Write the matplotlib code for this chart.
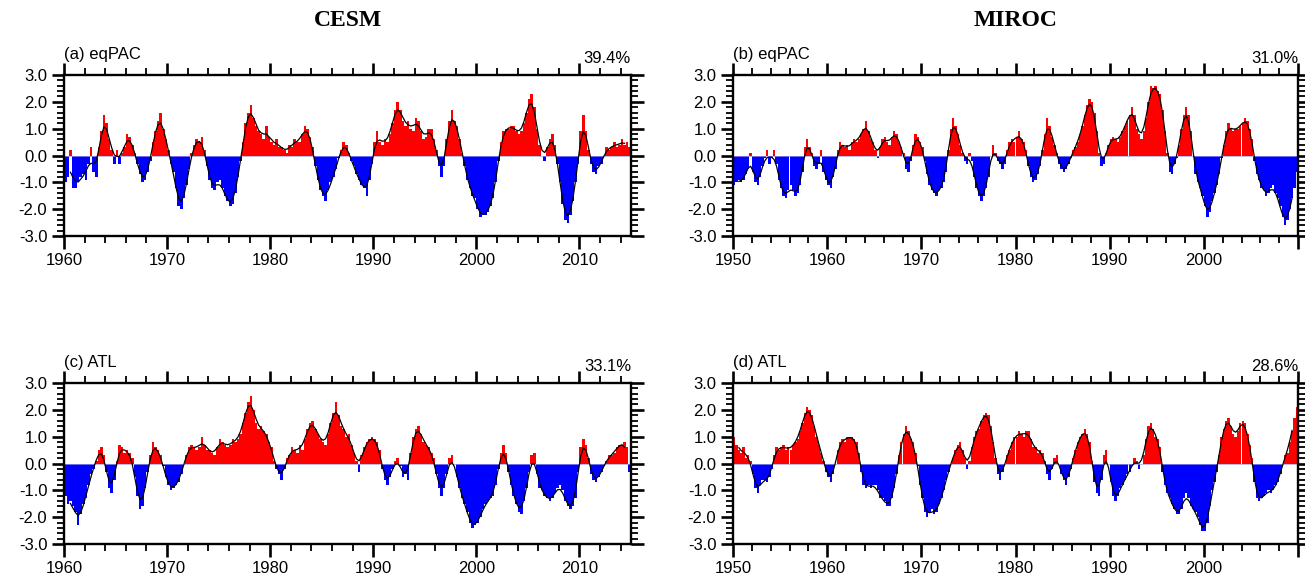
import numpy as np
import matplotlib

matplotlib.use("Agg")

import matplotlib.pyplot as plt

# quarterly anomaly values (one row per year)
cesm_eqpac = [
    -1.0, -0.8, 0.2, -1.2,  -1.2, -1.0, -0.8, -0.7,  -0.9, -0.3, 0.3, -0.6,  -0.8, 0.3, 0.9, 1.5,
    1.2, 0.6, 0.2, -0.3,  0.2, -0.3, 0.1, 0.3,  0.8, 0.7, 0.4, 0.1,  -0.3, -0.7, -1.0, -0.9,
    -0.6, -0.2, 0.5, 0.9,  1.3, 1.6, 1.0, 0.6,  0.2, -0.3, -0.6, -1.2,  -1.9, -2.0, -1.6, -1.1,
    -0.5, 0.1, 0.4, 0.6,  0.5, 0.7, 0.2, -0.4,  -0.9, -1.2, -1.3, -1.0,  -0.9, -1.2, -1.5, -1.7,
    -1.9, -1.8, -1.4, -0.8,  -0.2, 0.5, 1.2, 1.6,  1.9, 1.4, 1.1, 0.9,  0.8, 0.6, 1.1, 0.7,
    0.5, 0.4, 0.6, 0.3,  0.3, 0.2, 0.1, 0.4,  0.3, 0.6, 0.5, 0.5,  0.8, 1.1, 1.0, 0.7,
    0.3, -0.4, -0.9, -1.3,  -1.5, -1.7, -1.3, -1.0,  -0.8, -0.5, -0.1, 0.2,  0.5, 0.4, 0.1, -0.2,
    -0.4, -0.7, -0.9, -1.1,  -1.2, -1.5, -0.9, -0.3,  0.5, 0.9, 0.5, 0.4,  0.6, 0.5, 0.8, 1.2,
    1.7, 2.0, 1.7, 1.3,  1.1, 1.3, 1.0, 0.9,  1.4, 1.3, 0.9, 0.6,  0.7, 1.0, 1.0, 0.6,
    0.2, -0.4, -0.8, -0.4,  0.6, 1.3, 1.7, 1.3,  1.1, 0.6, 0.1, -0.4,  -0.9, -1.2, -1.5, -1.6,
    -2.0, -2.3, -2.2, -2.2,  -2.1, -1.9, -1.6, -1.0,  -0.2, 0.5, 0.9, 1.0,  1.0, 1.1, 1.1, 0.9,
    0.8, 0.9, 1.2, 1.6,  2.1, 2.3, 1.8, 1.0,  0.4, 0.0, -0.2, 0.3,  0.6, 0.8, 0.4, -0.3,
    -1.0, -1.8, -2.4, -2.5,  -2.2, -1.7, -1.0, -0.3,  0.9, 1.5, 0.9, 0.2,  -0.3, -0.6, -0.7, -0.4,
    -0.3, 0.0, 0.3, 0.2,  0.3, 0.5, 0.3, 0.4,  0.6, 0.4, 0.5, 0.3,
]
miroc_eqpac = [
    -1.1, -1.0, -0.9, -1.0,  -0.9, -0.7, -0.5, 0.1,  -0.6, -1.0, -1.1, -0.8,  -0.4, -0.1, 0.2, -0.3,
    -0.1, 0.2, -0.3, -0.9,  -1.2, -1.5, -1.6, -1.3,  -1.1, -1.3, -1.5, -1.4,  -1.1, -0.6, 0.3, 0.6,
    0.3, 0.1, -0.4, -0.5,  -0.3, 0.2, -0.6, -0.9,  -1.1, -1.2, -0.8, -0.5,  0.2, 0.5, 0.4, 0.3,
    0.4, 0.2, 0.5, 0.6,  0.5, 0.6, 0.8, 1.0,  1.3, 0.9, 0.6, 0.5,  0.2, -0.1, 0.3, 0.6,
    0.7, 0.5, 0.4, 0.7,  0.9, 0.8, 0.5, 0.3,  0.1, -0.5, -0.6, -0.2,  0.4, 0.8, 0.7, 0.5,
    0.3, -0.2, -0.7, -1.1,  -1.3, -1.4, -1.5, -1.3,  -1.2, -1.0, -0.6, 0.2,  1.0, 1.4, 1.1, 0.8,
    0.4, 0.1, -0.2, -0.3,  0.1, -0.2, -0.8, -1.2,  -1.5, -1.7, -1.5, -1.2,  -0.8, 0.0, 0.4, 0.1,
    -0.2, -0.3, -0.5, -0.3,  0.2, 0.5, 0.6, 0.5,  0.7, 0.9, 0.6, 0.5,  0.2, -0.4, -0.8, -1.0,
    -0.9, -0.7, -0.4, 0.2,  0.8, 1.4, 1.1, 0.7,  0.4, 0.1, -0.3, -0.5,  -0.6, -0.5, -0.3, -0.1,
    0.2, 0.3, 0.5, 0.8,  1.1, 1.5, 1.9, 2.1,  2.0, 1.6, 0.9, 0.1,  -0.4, -0.3, 0.1, 0.4,
    0.6, 0.7, 0.6, 0.5,  0.7, 0.9, 1.1, 1.3,  1.5, 1.8, 1.5, 1.0,  0.8, 0.6, 0.9, 1.4,
    2.0, 2.6, 2.5, 2.6,  2.4, 2.3, 1.7, 0.9,  0.1, -0.6, -0.7, -0.3,  -0.1, 0.4, 1.0, 1.5,
    1.8, 1.5, 0.9, 0.0,  -0.7, -1.0, -1.2, -1.5,  -1.9, -2.3, -2.1, -1.7,  -1.4, -1.1, -0.7, -0.1,
    0.4, 0.9, 1.2, 1.0,  0.9, 1.0, 1.0, 1.1,  1.2, 1.4, 1.3, 1.0,  0.6, -0.2, -0.7, -0.9,
    -1.2, -1.3, -1.5, -1.4,  -1.2, -1.1, -1.4, -1.6,  -1.9, -2.3, -2.6, -2.4,  -2.0, -1.6, -1.2, -0.6,
]
cesm_atl = [
    -1.2, -1.5, -1.4, -1.6,  -1.8, -2.3, -1.9, -1.5,  -1.3, -0.8, -0.4, -0.2,  0.1, 0.5, 0.6, 0.3,
    -0.3, -0.9, -1.1, -0.6,  0.1, 0.7, 0.6, 0.4,  0.5, 0.4, 0.2, -0.5,  -1.2, -1.7, -1.6, -0.9,
    -0.3, 0.3, 0.8, 0.6,  0.5, 0.3, -0.1, -0.5,  -0.8, -1.0, -0.9, -0.8,  -0.7, -0.4, 0.0, 0.3,
    0.6, 0.7, 0.6, 0.5,  0.6, 1.0, 0.7, 0.5,  0.5, 0.4, 0.3, 0.6,  0.9, 0.8, 0.7, 0.6,
    0.7, 0.9, 0.8, 0.9,  1.1, 1.5, 1.9, 2.3,  2.5, 2.0, 1.5, 1.3,  1.4, 1.2, 1.1, 0.8,
    0.6, 0.1, -0.2, -0.4,  -0.6, -0.2, 0.2, 0.3,  0.6, 0.5, 0.4, 0.7,  0.5, 0.9, 1.3, 1.5,
    1.6, 1.3, 1.1, 0.9,  0.8, 0.7, 1.1, 1.5,  1.9, 2.3, 1.8, 1.4,  1.3, 1.0, 1.1, 0.7,
    0.4, 0.1, -0.3, 0.3,  0.6, 0.8, 0.9, 1.0,  0.9, 0.8, 0.5, -0.2,  -0.6, -0.8, -0.5, -0.2,
    0.1, 0.2, -0.1, -0.5,  -0.4, -0.6, 0.4, 1.0,  1.3, 1.4, 1.1, 0.8,  0.7, 0.6, 0.4, 0.2,
    -0.4, -0.9, -1.2, -0.9,  -0.4, 0.2, 0.3, 0.0,  -0.5, -0.9, -1.3, -1.5,  -1.8, -2.2, -2.4, -2.3,
    -2.2, -2.0, -1.7, -1.5,  -1.4, -1.3, -1.2, -0.8,  -0.2, 0.4, 0.7, 0.4,  -0.3, -0.8, -1.2, -1.5,
    -1.8, -1.9, -1.4, -0.9,  -0.3, 0.3, 0.4, -0.4,  -0.9, -1.0, -1.2, -1.3,  -1.4, -1.3, -1.1, -0.9,
    -0.8, -1.0, -1.4, -1.6,  -1.7, -1.6, -1.3, -0.3,  0.6, 0.9, 0.7, 0.2,  -0.4, -0.6, -0.7, -0.5,
    -0.3, -0.1, 0.1, 0.3,  0.3, 0.4, 0.6, 0.7,  0.7, 0.8, 0.6, -0.3,
]
miroc_atl = [
    1.0, 0.7, 0.5, 0.4,  0.6, 0.2, 0.3, 0.1,  -0.4, -0.9, -1.1, -0.8,  -0.6, -0.6, -0.7, -0.5,
    -0.2, 0.3, 0.6, 0.5,  0.6, 0.7, 0.5, 0.6,  0.5, 0.7, 0.8, 0.9,  1.2, 1.5, 1.9, 2.1,
    2.0, 1.8, 1.4, 1.0,  0.7, 0.4, 0.1, -0.3,  -0.5, -0.7, -0.4, 0.0,  0.5, 0.8, 0.9, 0.8,
    1.0, 1.0, 1.0, 0.9,  0.8, 0.4, -0.3, -0.8,  -0.9, -0.8, -0.9, -0.8,  -0.8, -1.0, -1.3, -1.3,
    -1.4, -1.6, -1.6, -1.3,  -0.9, -0.4, 0.3, 0.8,  1.1, 1.4, 1.2, 0.9,  0.8, 0.4, -0.1, -0.8,
    -1.3, -1.8, -2.0, -1.8,  -1.7, -1.9, -1.8, -1.5,  -1.3, -1.0, -0.6, -0.3,  0.0, 0.2, 0.5, 0.7,
    0.8, 0.5, 0.2, -0.2,  0.1, 0.6, 1.0, 1.2,  1.3, 1.6, 1.8, 1.9,  1.8, 1.4, 0.8, 0.2,
    -0.4, -0.6, -0.3, 0.0,  0.3, 0.5, 0.8, 1.0,  1.0, 1.2, 1.1, 1.0,  1.2, 1.2, 0.9, 0.6,
    0.6, 0.4, 0.5, 0.4,  0.1, -0.4, -0.6, -0.2,  0.2, 0.3, 0.0, -0.4,  -0.6, -0.8, -0.5, -0.2,
    0.2, 0.5, 0.8, 1.0,  1.1, 1.3, 1.1, 0.8,  0.1, -0.7, -1.1, -1.2,  -0.6, 0.3, 0.5, 0.0,
    -0.7, -1.2, -1.4, -1.2,  -0.9, -0.8, -0.6, -0.4,  -0.3, -0.1, 0.2, 0.1,  -0.2, 0.0, 0.3, 0.9,
    1.4, 1.5, 1.3, 1.0,  0.9, 0.6, -0.3, -0.8,  -1.1, -1.3, -1.5, -1.7,  -1.9, -1.9, -1.7, -1.3,
    -1.1, -1.3, -1.6, -1.7,  -1.8, -2.0, -2.3, -2.5,  -2.5, -2.2, -1.6, -1.0,  -0.7, -0.3, 0.3, 1.0,
    1.3, 1.6, 1.7, 1.4,  1.1, 1.0, 1.2, 1.5,  1.6, 1.5, 1.1, 0.7,  0.2, -0.7, -1.3, -1.4,
    -1.3, -1.2, -1.1, -1.0,  -1.1, -1.0, -0.8, -0.7,  -0.4, 0.0, 0.3, 0.4,  0.8, 1.2, 1.7, 2.1,
]

models = ["CESM", "MIROC"]
start_years = [1960, 1950]
end_years = [2015, 2010]
xlabels = [[1960, 1970, 1980, 1990, 2000, 2010], [1950, 1960, 1970, 1980, 1990, 2000]]
panel_labels = ["(a) eqPAC", "(b) eqPAC", "(c) ATL", "(d) ATL"]
variances = ["39.4%", "31.0%", "33.1%", "28.6%"]
series = [cesm_eqpac, miroc_eqpac, cesm_atl, miroc_atl]

SANS = "Liberation Sans"
W, H = 1305, 585
fig = plt.figure(figsize=(W / 100, H / 100), dpi=100)

# axes boxes in pixels: left, right, top, bottom
boxes = [(64, 631, 75, 236), (733, 1298, 75, 236),
         (64, 631, 383, 544), (733, 1298, 383, 544)]
smooth_w = np.array([1, 2, 3, 2, 1], dtype=float)
smooth_w /= smooth_w.sum()
yt = np.arange(-3, 3.1, 1)

for i, (l, r, t, b) in enumerate(boxes):
    col = i % 2
    x0, x1 = start_years[col], end_years[col]
    ax = fig.add_axes([l / W, 1 - b / H, (r - l) / W, (b - t) / H])
    vals = np.asarray(series[i])
    tq = x0 + 0.25 * np.arange(len(vals))
    colors = np.where(vals >= 0, "#ff0000", "#0000ff")
    ax.bar(tq, vals, width=0.25, align="edge", color=colors, linewidth=0)
    ax.axhline(0, color="#a0a0e0", lw=0.5)
    sm = np.convolve(vals, smooth_w, mode="valid")
    ax.plot((tq + 0.125)[2:-2], sm, color="black", lw=0.9)

    ax.set_xlim(x0, x1)
    ax.set_ylim(-3, 3)
    ax.set_yticks(yt)
    ax.set_yticks(np.arange(-3, 3.01, 0.2), minor=True)
    ax.set_xticks(list(range(x0, x1 + 1, 10)))
    ax.set_xticks([v for v in range(x0, x1 + 1, 2) if (v - x0) % 10], minor=True)
    ax.set_yticklabels([f"{v:.1f}" for v in yt])
    ax.set_xticklabels([str(v) if v in xlabels[col] else "" for v in range(x0, x1 + 1, 10)])

    ax.tick_params(which="both", direction="out", top=True, right=True,
                   labelsize=12, pad=3)
    ax.tick_params(which="major", length=9, width=1.9)
    ax.tick_params(which="minor", length=5, width=1.3)
    for lab in ax.get_xticklabels() + ax.get_yticklabels():
        lab.set_fontfamily(SANS)
    for s in ax.spines.values():
        s.set_linewidth(1.7)

    ax.text(0.0, 1.0 + 16 / (b - t), panel_labels[i], transform=ax.transAxes,
            ha="left", va="baseline", fontsize=12, family=SANS)
    ax.text(1.0, 1.0 + 12 / (b - t), variances[i], transform=ax.transAxes,
            ha="right", va="baseline", fontsize=12, family=SANS)

    if i < 2:
        fig.text((l + r) / 2 / W, 1 - 20 / H, models[col], ha="center", va="center",
                 fontsize=17, fontweight="bold", family="Liberation Serif")

fig.savefig("out.png", dpi=100, facecolor="white")
